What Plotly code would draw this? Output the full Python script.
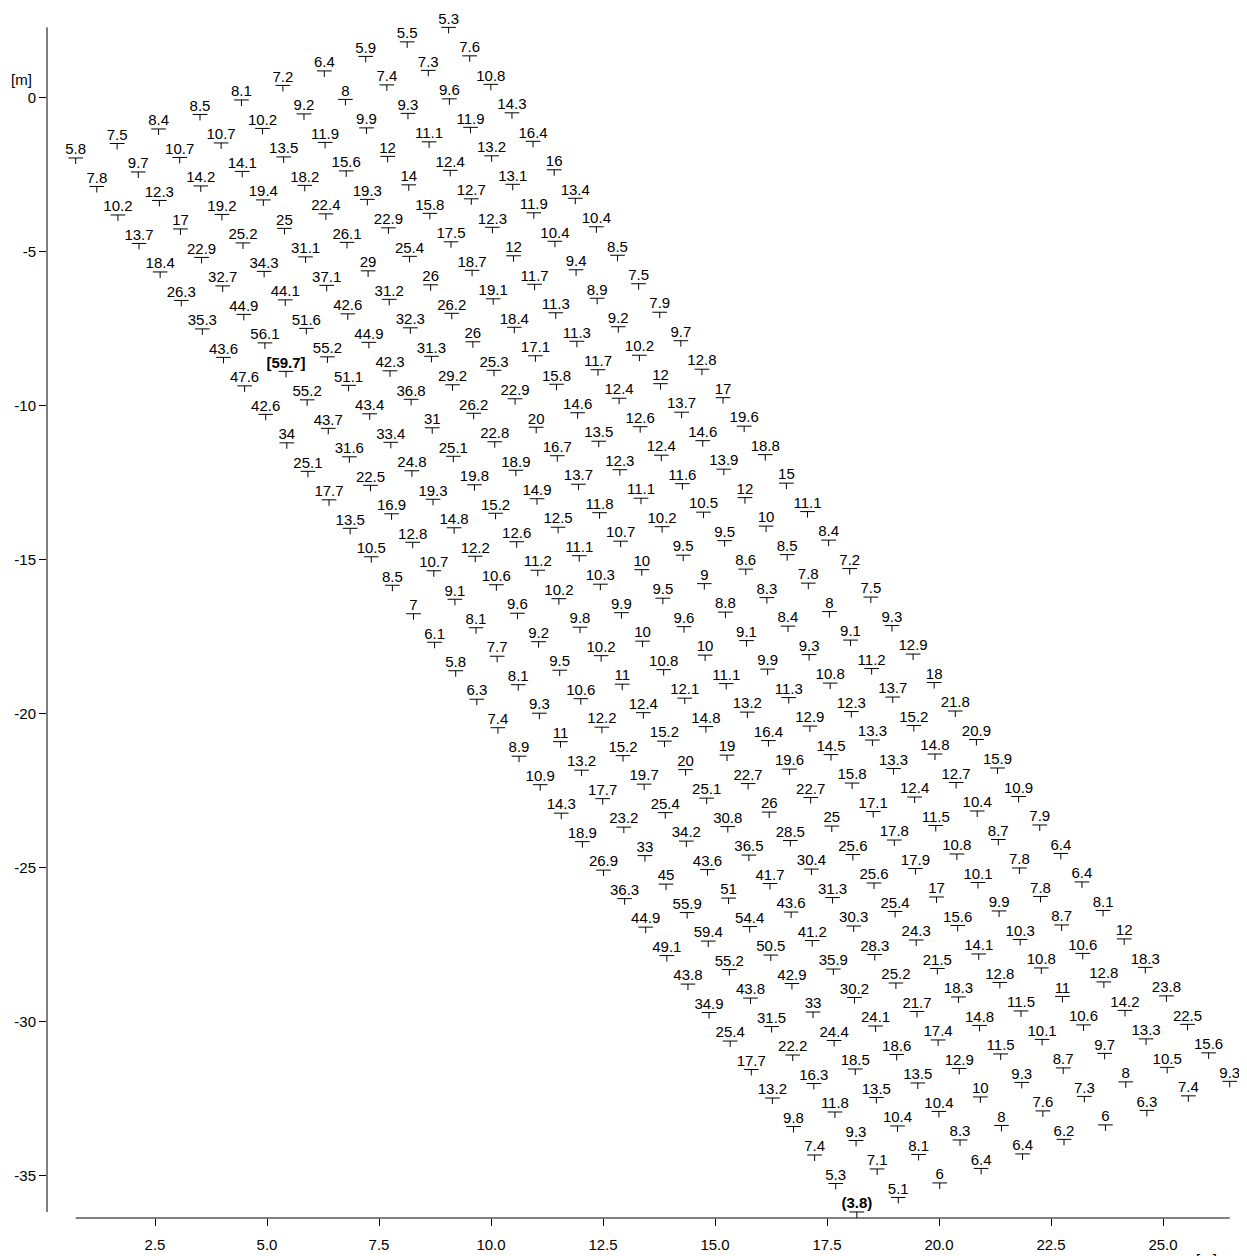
import numpy as np
import plotly.graph_objects as go

# ---- data: 38 rows (down the strip) x 10 columns (across the strip) ----
values = [
    [5.8, 7.5, 8.4, 8.5, 8.1, 7.2, 6.4, 5.9, 5.5, 5.3],
    [7.8, 9.7, 10.7, 10.7, 10.2, 9.2, 8, 7.4, 7.3, 7.6],
    [10.2, 12.3, 14.2, 14.1, 13.5, 11.9, 9.9, 9.3, 9.6, 10.8],
    [13.7, 17, 19.2, 19.4, 18.2, 15.6, 12, 11.1, 11.9, 14.3],
    [18.4, 22.9, 25.2, 25, 22.4, 19.3, 14, 12.4, 13.2, 16.4],
    [26.3, 32.7, 34.3, 31.1, 26.1, 22.9, 15.8, 12.7, 13.1, 16],
    [35.3, 44.9, 44.1, 37.1, 29, 25.4, 17.5, 12.3, 11.9, 13.4],
    [43.6, 56.1, 51.6, 42.6, 31.2, 26, 18.7, 12, 10.4, 10.4],
    [47.6, 59.7, 55.2, 44.9, 32.3, 26.2, 19.1, 11.7, 9.4, 8.5],
    [42.6, 55.2, 51.1, 42.3, 31.3, 26, 18.4, 11.3, 8.9, 7.5],
    [34, 43.7, 43.4, 36.8, 29.2, 25.3, 17.1, 11.3, 9.2, 7.9],
    [25.1, 31.6, 33.4, 31, 26.2, 22.9, 15.8, 11.7, 10.2, 9.7],
    [17.7, 22.5, 24.8, 25.1, 22.8, 20, 14.6, 12.4, 12, 12.8],
    [13.5, 16.9, 19.3, 19.8, 18.9, 16.7, 13.5, 12.6, 13.7, 17],
    [10.5, 12.8, 14.8, 15.2, 14.9, 13.7, 12.3, 12.4, 14.6, 19.6],
    [8.5, 10.7, 12.2, 12.6, 12.5, 11.8, 11.1, 11.6, 13.9, 18.8],
    [7, 9.1, 10.6, 11.2, 11.1, 10.7, 10.2, 10.5, 12, 15],
    [6.1, 8.1, 9.6, 10.2, 10.3, 10, 9.5, 9.5, 10, 11.1],
    [5.8, 7.7, 9.2, 9.8, 9.9, 9.5, 9, 8.6, 8.5, 8.4],
    [6.3, 8.1, 9.5, 10.2, 10, 9.6, 8.8, 8.3, 7.8, 7.2],
    [7.4, 9.3, 10.6, 11, 10.8, 10, 9.1, 8.4, 8, 7.5],
    [8.9, 11, 12.2, 12.4, 12.1, 11.1, 9.9, 9.3, 9.1, 9.3],
    [10.9, 13.2, 15.2, 15.2, 14.8, 13.2, 11.3, 10.8, 11.2, 12.9],
    [14.3, 17.7, 19.7, 20, 19, 16.4, 12.9, 12.3, 13.7, 18],
    [18.9, 23.2, 25.4, 25.1, 22.7, 19.6, 14.5, 13.3, 15.2, 21.8],
    [26.9, 33, 34.2, 30.8, 26, 22.7, 15.8, 13.3, 14.8, 20.9],
    [36.3, 45, 43.6, 36.5, 28.5, 25, 17.1, 12.4, 12.7, 15.9],
    [44.9, 55.9, 51, 41.7, 30.4, 25.6, 17.8, 11.5, 10.4, 10.9],
    [49.1, 59.4, 54.4, 43.6, 31.3, 25.6, 17.9, 10.8, 8.7, 7.9],
    [43.8, 55.2, 50.5, 41.2, 30.3, 25.4, 17, 10.1, 7.8, 6.4],
    [34.9, 43.8, 42.9, 35.9, 28.3, 24.3, 15.6, 9.9, 7.8, 6.4],
    [25.4, 31.5, 33, 30.2, 25.2, 21.5, 14.1, 10.3, 8.7, 8.1],
    [17.7, 22.2, 24.4, 24.1, 21.7, 18.3, 12.8, 10.8, 10.6, 12],
    [13.2, 16.3, 18.5, 18.6, 17.4, 14.8, 11.5, 11, 12.8, 18.3],
    [9.8, 11.8, 13.5, 13.5, 12.9, 11.5, 10.1, 10.6, 14.2, 23.8],
    [7.4, 9.3, 10.4, 10.4, 10, 9.3, 8.7, 9.7, 13.3, 22.5],
    [5.3, 7.1, 8.1, 8.3, 8, 7.6, 7.3, 8, 10.5, 15.6],
    [3.8, 5.1, 6, 6.4, 6.4, 6.2, 6, 6.3, 7.4, 9.3],
]

# grid geometry (measurement grid, metres)
grid_origin_x = 0.73
grid_origin_y = -1.958
grid_spacing = 1.038
grid_angle_deg = 27.0

x_tick_vals = [2.5, 5.0, 7.5, 10.0, 12.5, 15.0, 17.5, 20.0, 22.5, 25.0]
x_tick_text = ["2.5", "5.0", "7.5", "10.0", "12.5", "15.0", "17.5", "20.0", "22.5", "25.0"]
y_tick_vals = [0, -5, -10, -15, -20, -25, -30, -35]
y_tick_text = ["0", "-5", "-10", "-15", "-20", "-25", "-30", "-35"]
axis_unit = "[m]"

# ---- layout constants (page body adds an 8 px offset) ----
W, H = 1239, 1248
M_L, M_R, M_T, M_B = 39, 0, 0, 38
X_RANGE = [0.0893, 26.875]
Y_RANGE = [-36.374, 2.912]
FONT = "Liberation Sans, Arial, Helvetica, sans-serif"
FS = 15

# ---- positions ----
vals = np.array(values, dtype=float)
n_rows, n_cols = vals.shape
ii, jj = np.meshgrid(np.arange(n_rows), np.arange(n_cols), indexing="ij")
a = np.radians(grid_angle_deg)
rx, ry = grid_spacing * np.cos(a), grid_spacing * np.sin(a)      # across
cx, cy = grid_spacing * np.sin(a), -grid_spacing * np.cos(a)     # down the strip
X = (grid_origin_x + ii * cx + jj * rx).ravel()
Y = (grid_origin_y + ii * cy + jj * ry).ravel()
V = vals.ravel()

vmax, vmin = V.max(), V.min()
labels = []
for v in V:
    s = "%g" % v
    if v == vmax:
        s = "<b>[%s]</b>" % s
    elif v == vmin:
        s = "<b>(%s)</b>" % s
    labels.append(s)

plot_h = H - M_T - M_B
px_per_y = plot_h / (Y_RANGE[1] - Y_RANGE[0])
stem_len_px = 6
stem_y = Y - (stem_len_px / 2.0) / px_per_y

fig = go.Figure()
# horizontal bar of the T marker
fig.add_trace(go.Scatter(
    x=X, y=Y, mode="markers", hoverinfo="skip", showlegend=False,
    marker=dict(symbol="line-ew", size=10.5, line=dict(width=1, color="black"), color="black"),
    cliponaxis=False,
))
# stem of the T marker
fig.add_trace(go.Scatter(
    x=X, y=stem_y, mode="markers", hoverinfo="skip", showlegend=False,
    marker=dict(symbol="line-ns", size=stem_len_px / 1.4, line=dict(width=1, color="black"), color="black"),
    cliponaxis=False,
))
# value labels
fig.add_trace(go.Scatter(
    x=X, y=Y, mode="text", text=labels, textposition="top center",
    textfont=dict(family=FONT, size=FS, color="black"),
    hoverinfo="skip", showlegend=False, cliponaxis=False,
))

# range-frame axis lines spanning the data extent
fig.add_shape(type="line", xref="x", yref="paper", x0=X.min(), x1=X.max(), y0=0, y1=0,
              line=dict(color="black", width=1))
fig.add_shape(type="line", xref="paper", yref="y", x0=0, x1=0, y0=Y.min(), y1=Y.max(),
              line=dict(color="black", width=1))

fig.add_annotation(text=axis_unit, xref="paper", x=0, xanchor="center", xshift=-26,
                   yref="y", y=0, yanchor="middle", yshift=18, showarrow=False,
                   font=dict(family=FONT, size=FS, color="black"))
fig.add_annotation(text=axis_unit, xref="x", x=25.98, xanchor="center",
                   yref="paper", y=0, yanchor="top", yshift=-31, showarrow=False,
                   font=dict(family=FONT, size=FS, color="black"))

fig.update_layout(
    width=W, height=H,
    margin=dict(l=M_L, r=M_R, t=M_T, b=M_B, pad=0),
    paper_bgcolor="white", plot_bgcolor="white",
    font=dict(family=FONT, size=FS, color="black"),
    xaxis=dict(range=X_RANGE, showgrid=False, zeroline=False, showline=False,
               tickmode="array", tickvals=x_tick_vals, ticktext=x_tick_text,
               ticks="outside", ticklen=7, tickwidth=1, tickcolor="black",
               ticklabelstandoff=6,
               tickfont=dict(family=FONT, size=FS, color="black")),
    yaxis=dict(range=Y_RANGE, showgrid=False, zeroline=False, showline=False,
               tickmode="array", tickvals=y_tick_vals, ticktext=y_tick_text,
               ticks="outside", ticklen=7, tickwidth=1, tickcolor="black",
               tickfont=dict(family=FONT, size=FS, color="black")),
)

fig.write_html("out.html")
